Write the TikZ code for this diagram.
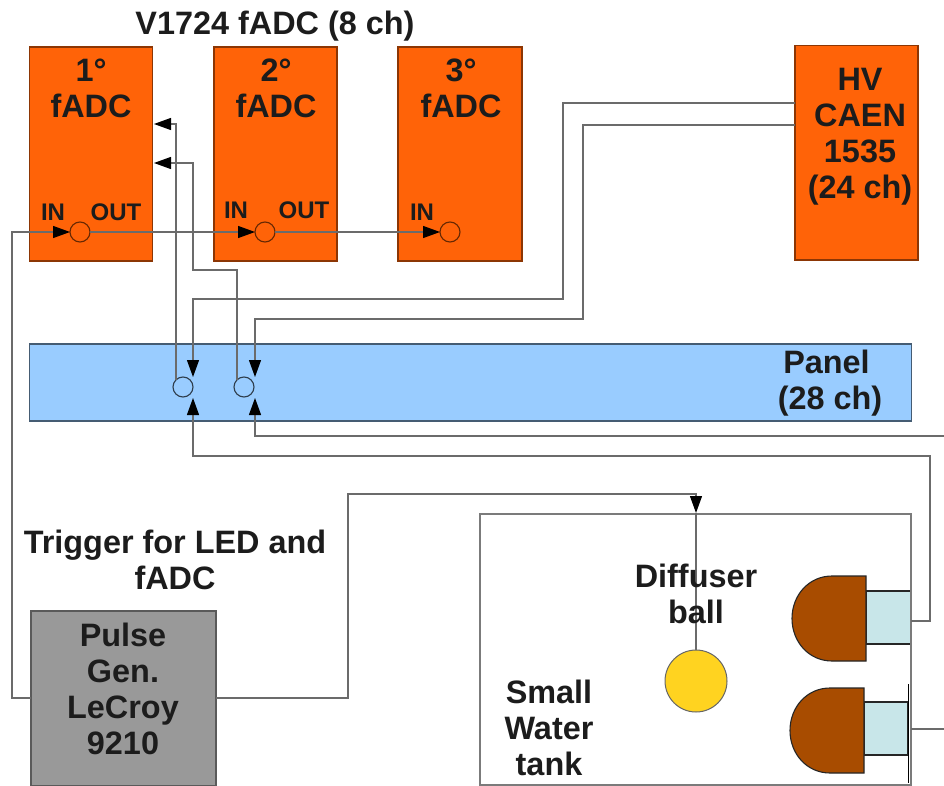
\documentclass[tikz,border=0pt]{standalone}
\usepackage{fontspec}
\setmainfont{Liberation Sans}
\usetikzlibrary{arrows.meta}
\definecolor{orangebox}{HTML}{FF6308}
\definecolor{panelblue}{HTML}{99CCFF}
\definecolor{pulsegray}{HTML}{999999}
\definecolor{pmtbrown}{HTML}{A84C00}
\definecolor{pmtbase}{HTML}{C8E6E9}
\definecolor{ballyellow}{HTML}{FFD320}
\definecolor{ink}{HTML}{1C1C1C}
\definecolor{edgegray}{HTML}{5A5A5A}
\tikzset{
  x=1pt,y=-1pt,
  box/.style={draw=#1,line width=1.1pt,inner sep=0pt,outer sep=0pt},
  box/.default=edgegray,
  port/.style={circle,draw=#1,line width=1.1pt,minimum size=20pt,inner sep=0pt,outer sep=0pt},
  conn/.style={draw=edgegray!90,line width=1.2pt},
  arr/.style={conn,-{Triangle[length=17pt,width=12pt,black]}},
  big/.style={font=\fontsize{32.4}{36}\selectfont\bfseries,text=ink,align=center,inner sep=0pt},
  small/.style={font=\fontsize{24}{28}\selectfont\bfseries,text=ink,inner sep=0pt},
}
\begin{document}
\begin{tikzpicture}
\useasboundingbox (0,0) rectangle (944,786);
% boxes
\node[box=orangebox!55!black,fill=orangebox,minimum width=123.5pt,minimum height=214pt] (adc1) at (91,154) {};
\node[box=orangebox!55!black,fill=orangebox,minimum width=123pt,minimum height=214pt] (adc2) at (275.5,154) {};
\node[box=orangebox!55!black,fill=orangebox,minimum width=124pt,minimum height=214pt] (adc3) at (460,154) {};
\node[box=orangebox!55!black,fill=orangebox,minimum width=123pt,minimum height=214.5pt] (hv) at (856.5,152.75) {};
\node[box=panelblue!45!black,fill=panelblue,minimum width=882.5pt,minimum height=77pt] (panel) at (470.5,382.5) {};
\node[box=edgegray!80,fill=white,minimum width=431pt,minimum height=271pt] (tank) at (695.5,649.5) {};
\node[box=edgegray,fill=pulsegray,minimum width=185pt,minimum height=175pt] (pulse) at (123.5,698.5) {};
% ports
\node[port=orangebox!40!black] (c1) at (80,232) {};
\node[port=orangebox!40!black] (c2) at (265,232) {};
\node[port=orangebox!40!black] (c3) at (450,232) {};
\node[port=panelblue!30!black] (p1) at (183,387) {};
\node[port=panelblue!30!black] (p2) at (244,387) {};
% helper coordinates
\coordinate (adc1a) at (154,124);
\coordinate (adc1b) at (154,163);
\coordinate (p1tin) at (193,377);
\coordinate (p2tin) at (255,377);
\coordinate (p1bin) at (193,398);
\coordinate (p2bin) at (255,398);
\coordinate (p1out) at (176,380);
\coordinate (p2out) at (237,380);
\coordinate (hvA) at (795,103);
\coordinate (hvB) at (795,125);
\coordinate (pulseY) at (0,698);
\coordinate (offA) at (944,436);
\coordinate (offB) at (944,729);
\coordinate (ballTip) at (696,513);
% ball and PMTs
\node[circle,draw=black!60,fill=ballyellow,line width=1pt,minimum width=62pt,inner sep=0pt,outer sep=0pt] (ball) at (696,681) {};
\node[box=black!85,fill=pmtbase,minimum width=45pt,minimum height=53pt] (base1) at (888.5,617.5) {};
\fill[pmtbrown,draw=black!85,line width=1.1pt] (866,576) -- (832,576) .. controls (809,576) and (792,595) .. (792,618.5) .. controls (792,642) and (809,661) .. (832,661) -- (866,661) -- cycle;
\node[box=black!85,fill=pmtbase,minimum width=44pt,minimum height=53pt] (base2) at (886,728.5) {};
\fill[pmtbrown,draw=black!85,line width=1.1pt] (864,688) -- (830,688) .. controls (807,688) and (790,707) .. (790,730.5) .. controls (790,754) and (807,773) .. (830,773) -- (864,773) -- cycle;
\coordinate (plateT) at (908,684);
\coordinate (plateB) at (908,783);
\draw[black,line width=1pt] (plateT) -- (plateB);
\draw[edgegray!80,line width=1.2pt] (tank.north east) -- (tank.south east);
% connectors
\draw[arr] (pulse.west |- pulseY) -- (12,698) -- (12,232) -- (c1.west);
\draw[arr] (c1) -- (c2.west);
\draw[arr] (c2) -- (c3.west);
\draw[arr] (p1out) -- (176,124) -- (adc1a);
\draw[arr] (p2out) -- (237,270) -- (193,270) -- (193,163) -- (adc1b);
\draw[arr] (hvA) -- (563,103) -- (563,299) -- (193,299) -- (p1tin);
\draw[arr] (hvB) -- (583,125) -- (583,319) -- (255,319) -- (p2tin);
\draw[arr] (base1.east |- 0,621) -- (930,621) -- (930,456) -- (193,456) -- (p1bin);
\draw[arr] (offA) -- (255,436) -- (p2bin);
\draw[arr] (pulse.east |- pulseY) -- (348,698) -- (348,494) -- (696,494) -- (ballTip);
\draw[conn] (ballTip) -- (ball.north);
\draw[conn] (tank.east |- offB) -- (offB);
% texts
\node[big] (title) at (275,26) {V1724 fADC (8 ch)};
\node[big] (t1) at (91,88) {1°\\fADC};
\node[big] (t2) at (276,88) {2°\\fADC};
\node[big] (t3) at (461,88) {3°\\fADC};
\node[big] (thv) at (860,137) {HV\\CAEN\\1535\hspace*{5pt}\\(24 ch)};
\node[big] (tpanel) at (830,383) {Panel\hspace*{7pt}\\(28 ch)};
\node[big] (ttrig) at (175,560) {Trigger for LED and\\fADC};
\node[big] (tpulse) at (123,689) {Pulse\\Gen.\\LeCroy\\9210};
\node[big] (tdiff) at (696,594) {Diffuser\\ball};
\node[big] (ttank) at (549,728) {Small\\Water\\tank};
\node[small] (i1) at (53,212) {IN};
\node[small] (o1) at (116,212) {OUT};
\node[small] (i2) at (236,210) {IN};
\node[small] (o2) at (304,210) {OUT};
\node[small] (i3) at (422,212) {IN};
\end{tikzpicture}
\end{document}
